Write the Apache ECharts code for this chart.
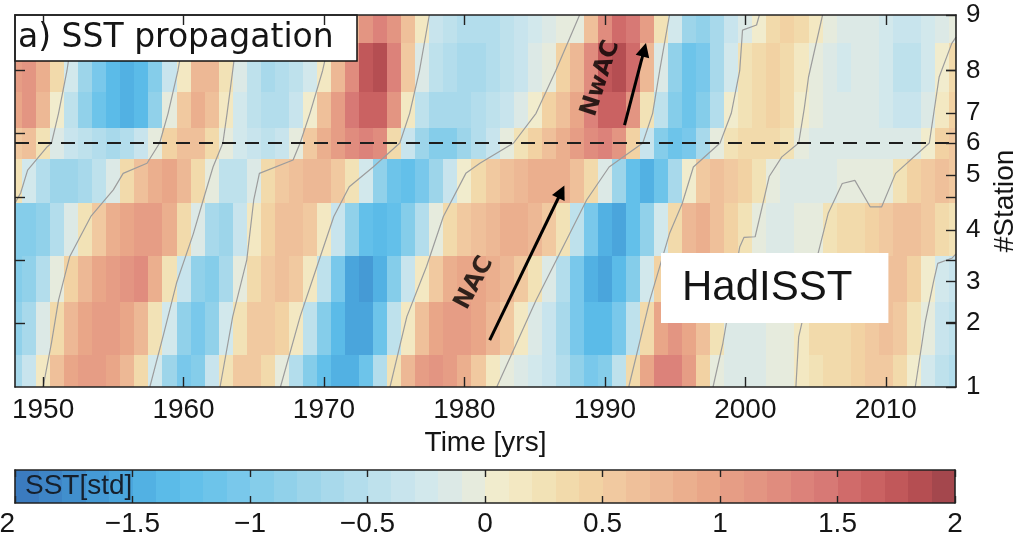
<!DOCTYPE html>
<html><head><meta charset="utf-8">
<script src="https://cdn.jsdelivr.net/npm/echarts@6/dist/echarts.min.js"></script>
<style>html,body{margin:0;padding:0;background:#fff}#c{width:1013px;height:539px}</style>
</head><body><div id="c"></div>
<script>
// ---------- data ----------
const years = [1948,1949,1950,1951,1952,1953,1954,1955,1956,1957,1958,1959,1960,1961,1962,1963,1964,1965,1966,1967,
  1968,1969,1970,1971,1972,1973,1974,1975,1976,1977,1978,1979,1980,1981,1982,1983,1984,1985,1986,1987,
  1988,1989,1990,1991,1992,1993,1994,1995,1996,1997,1998,1999,2000,2001,2002,2003,2004,2005,2006,2007,
  2008,2009,2010,2011,2012,2013,2014,2015];
const yearTicks = [1950,1960,1970,1980,1990,2000,2010];
const stationLabels = ['1','2','3','4','5','6','7','8','9'];
const stationDist = [0, 1.014, 1.661, 2.476, 3.344, 3.849, 4.317, 4.989, 5.868];
const distTicks = [1,2,3,4,5];
const cbarTicks = [-2,-1.5,-1,-0.5,0,0.5,1,1.5,2];
const levelEdges = [-2,-1.9,-1.8,-1.7,-1.6,-1.5,-1.4,-1.3,-1.2,-1.1,-1,-0.9,-0.8,-0.7,-0.6,-0.5,-0.4,-0.3,-0.2,-0.1,
  0,0.1,0.2,0.3,0.4,0.5,0.6,0.7,0.8,0.9,1,1.1,1.2,1.3,1.4,1.5,1.6,1.7,1.8,1.9,2];

const st1 = [-0.7,-0.4,0.1,0.6,0.9,1.0,1.0,0.9,0.7,0.3,
  -0.3,-0.8,-1.1,-1.0,-0.4,0.2,0.5,0.5,0.3,-0.1,
  -0.6,-1.0,-1.3,-1.5,-1.5,-1.2,-0.6,0.2,0.7,1.0,
  1.1,1.0,0.8,0.5,0.1,-0.1,-0.2,-0.3,-0.4,-0.6,
  -0.9,-1.1,-1.0,-0.5,0.3,0.9,1.3,1.3,1.0,0.4,
  -0.1,-0.2,-0.2,-0.2,-0.1,-0.1,0.1,0.2,0.3,0.3,
  0.4,0.5,0.5,0.3,0.0,-0.3,-0.5,-0.6];
const st2 = [-0.9,-0.7,-0.2,0.3,0.7,0.9,1.0,1.0,0.9,0.7,
  0.2,-0.3,-0.9,-1.1,-0.9,-0.3,0.2,0.5,0.5,0.4,
  0.1,-0.5,-1.0,-1.4,-1.6,-1.6,-1.2,-0.5,0.1,0.6,
  0.9,1.0,1.0,0.9,0.7,0.5,0.1,-0.2,-0.4,-0.7,
  -1.1,-1.4,-1.4,-1.1,-0.5,0.3,0.9,1.1,0.9,0.6,
  0.2,-0.2,-0.2,-0.2,-0.1,-0.1,0.1,0.3,0.3,0.3,
  0.4,0.5,0.6,0.5,0.2,-0.1,-0.4,-0.5];
const st3 = [-1.0,-0.9,-0.6,-0.1,0.4,0.7,0.9,1.0,1.1,1.2,
  0.8,0.2,-0.4,-0.9,-1.0,-0.7,-0.1,0.3,0.5,0.6,
  0.5,0.1,-0.5,-1.1,-1.6,-1.7,-1.5,-1.0,-0.4,0.1,
  0.5,0.8,0.9,0.9,0.8,0.7,0.5,0.2,-0.2,-0.6,
  -1.1,-1.5,-1.6,-1.4,-1.0,-0.3,0.4,0.8,0.9,0.7,
  0.4,0.0,-0.1,-0.2,-0.2,-0.1,-0.1,0.2,0.3,0.3,
  0.4,0.5,0.6,0.6,0.4,0.0,-0.3,-0.4];
const st4 = [-1.0,-1.0,-0.9,-0.6,-0.2,0.2,0.5,0.8,0.9,1.0,
  1.0,0.8,0.3,-0.2,-0.7,-0.8,-0.4,0.1,0.4,0.6,
  0.6,0.5,0.1,-0.4,-0.9,-1.3,-1.4,-1.3,-1.0,-0.6,
  -0.1,0.3,0.5,0.6,0.7,0.8,0.8,0.7,0.5,0.2,
  -0.5,-1.1,-1.5,-1.6,-1.3,-0.9,-0.3,0.3,0.7,0.8,
  0.6,0.4,0.2,-0.1,-0.2,-0.2,-0.1,-0.1,0.2,0.3,
  0.3,0.4,0.5,0.6,0.6,0.5,0.3,0.2];
const st5 = [0.2,-0.3,-0.6,-0.8,-0.8,-0.7,-0.5,-0.2,0.3,0.6,
  0.8,0.9,0.7,0.3,-0.1,-0.5,-0.5,-0.2,0.3,0.5,
  0.6,0.7,0.7,0.5,0.2,-0.3,-0.9,-1.2,-1.3,-1.1,
  -0.8,-0.4,0.0,0.3,0.5,0.6,0.7,0.8,0.8,0.8,
  0.6,0.3,-0.2,-0.8,-1.3,-1.5,-1.2,-0.7,0.0,0.5,
  0.6,0.5,0.4,0.2,-0.1,-0.2,-0.2,-0.2,-0.2,-0.1,
  -0.1,-0.1,-0.1,0.2,0.4,0.5,0.6,0.5];
const st6 = [0.5,0.6,0.2,-0.2,-0.4,-0.5,-0.6,-0.7,-0.6,-0.4,
  -0.1,0.4,0.6,0.6,0.3,-0.1,-0.3,-0.4,-0.5,-0.4,
  -0.1,0.5,0.8,1.0,1.2,1.3,1.2,0.3,-0.4,-0.8,
  -1.0,-1.0,-0.8,-0.6,-0.4,-0.1,0.2,0.4,0.6,0.8,
  1.0,1.2,1.3,1.1,0.4,-0.4,-1.0,-1.2,-1.1,-0.7,
  -0.1,0.2,0.3,0.3,0.3,0.2,-0.1,-0.2,-0.2,-0.2,
  -0.2,-0.2,-0.2,-0.2,-0.2,0.0,0.4,0.5];
const st7 = [0.9,1.1,0.7,0.0,-0.5,-0.9,-1.2,-1.4,-1.5,-1.4,
  -0.9,-0.1,0.5,0.8,0.6,0.1,-0.3,-0.5,-0.6,-0.6,
  -0.4,0.0,0.6,1.0,1.4,1.6,1.6,1.1,0.1,-0.5,
  -0.7,-0.7,-0.7,-0.6,-0.5,-0.4,-0.2,0.0,0.4,0.6,
  0.9,1.3,1.6,1.6,1.1,0.2,-0.5,-1.0,-1.2,-1.0,
  -0.6,0.0,0.2,0.3,0.4,0.3,0.0,-0.1,-0.2,-0.2,
  -0.2,-0.2,-0.3,-0.4,-0.4,-0.2,0.1,0.4];
const st8 = [1.0,1.1,0.8,0.3,-0.3,-0.8,-1.1,-1.4,-1.5,-1.4,
  -1.0,-0.4,0.1,0.7,0.7,0.2,-0.2,-0.5,-0.7,-0.6,
  -0.5,-0.3,0.1,0.7,1.2,1.7,1.8,1.3,0.5,-0.2,
  -0.5,-0.6,-0.7,-0.7,-0.6,-0.5,-0.4,-0.2,-0.1,0.4,
  0.7,1.2,1.7,1.8,1.5,0.7,-0.2,-0.9,-1.2,-1.1,
  -0.7,-0.3,0.2,0.3,0.4,0.3,0.1,-0.1,-0.2,-0.3,
  -0.2,-0.2,-0.3,-0.5,-0.5,-0.3,0.0,0.3];
const st9 = [0.8,0.9,0.7,0.4,0.1,-0.5,-0.9,-1.1,-1.2,-1.2,
  -1.0,-0.6,-0.1,0.3,0.6,0.3,0.0,-0.4,-0.5,-0.5,
  -0.5,-0.4,-0.2,0.2,0.7,1.1,1.3,1.1,0.6,0.1,
  -0.4,-0.5,-0.6,-0.6,-0.6,-0.5,-0.4,-0.3,-0.2,-0.1,
  -0.1,0.6,1.2,1.5,1.4,1.0,0.2,-0.3,-0.8,-0.9,
  -0.7,-0.4,-0.2,0.0,0.3,0.4,0.3,0.1,-0.1,-0.2,
  -0.2,-0.2,-0.3,-0.4,-0.4,-0.3,-0.2,-0.1];
const sstRows = [st1, st2, st3, st4, st5, st6, st7, st8, st9];

// zero contours: [year, distance]
const contour0 = [[1948.0,2.9],[1948.4,3.06],[1948.9,3.42],[1950.3,3.79],[1950.6,3.849],[1951.1,4.317],[1951.7,4.989],[1952.3,5.868]];
const contourA = [[1950.0,0],[1950.6,0.7],[1951.1,1.37],[1951.9,2.06],[1953.4,2.69],[1955.0,3.11],[1955.7,3.37],[1957.4,3.53],[1958.3,3.849],[1958.9,4.317],[1959.6,4.989],[1960.3,5.868]];
const contourB = [[1957.6,0],[1958.6,0.85],[1959.5,1.64],[1960.7,2.42],[1961.4,2.95],[1962.1,3.47],[1962.8,3.849],[1963.1,4.317],[1963.5,4.989],[1964.0,5.868]];
const contourC = [[1962.6,0],[1963.5,1.11],[1964.5,2.0],[1965.0,2.95],[1965.4,3.37],[1967.8,3.58],[1968.3,3.849],[1969.0,4.317],[1969.9,4.989],[1970.8,5.868]];
const contourD = [[1966.9,0],[1968.3,1.11],[1969.5,1.9],[1970.7,2.69],[1971.8,3.16],[1973.5,3.47],[1975.4,3.849],[1976.1,4.317],[1976.8,4.989],[1977.5,5.868]];
const contourE = [[1974.7,0],[1975.9,1.11],[1977.3,1.9],[1978.5,2.69],[1980.1,3.37],[1981.1,3.53],[1983.5,3.849],[1985.1,4.317],[1986.5,4.989],[1988.2,5.868]];
const contourF = [[1982.3,0],[1985.1,1.37],[1987.5,2.42],[1988.7,2.95],[1990.3,3.47],[1992.7,3.849],[1993.4,4.317],[1993.9,4.989],[1994.6,5.868]];
const contourG = [[1991.7,0],[1993.2,1.37],[1994.6,2.42],[1995.5,2.89],[1996.3,3.47],[1998.2,3.849],[1999.0,4.317],[1999.6,4.989],[1999.8,5.63],[2000.8,5.71],[2001.0,5.868]];
const contourH = [[1997.7,0],[1998.4,0.69],[1999.6,2.21],[1999.9,2.36],[2000.7,2.37],[2001.7,3.32],[2002.6,3.63],[2003.8,3.849],[2004.2,4.4],[2004.5,4.89],[2005.5,5.868]];
const contourI = [[2003.6,0],[2003.8,0.79],[2005.0,1.95],[2005.9,2.74],[2006.9,3.21],[2007.8,3.26],[2008.9,2.84],[2009.7,2.84],[2010.7,3.37],[2013.1,3.849],[2013.8,4.89],[2014.7,5.42],[2015.0,5.52]];
const contourJ = [[2012.1,0],[2012.8,1.014],[2013.4,1.661],[2013.7,1.95],[2014.7,2.03],[2015.0,2.1]];
const contours = [contour0, contourA, contourB, contourC, contourD, contourE, contourF, contourG, contourH, contourI, contourJ];

// annotations (data coordinates)
const arrowNAC = [[1981.8, 0.74], [1986.9, 3.08]];
const arrowNwAC = [[1991.4, 4.13], [1992.8, 5.32]];
const annotations = [
  {name: 'NAC', value: [1980.7, 1.64], rot: 62},
  {name: 'NwAC', value: [1989.7, 4.87], rot: 72}
];

// ---------- style ----------
const levelColors = ['#3b7bbf','#3e85c6','#418fcd','#459ad5','#4aa5dc','#52b1e3','#5bbbe8','#63c0ea','#6dc4ea','#79c8eb',
  '#85cdea','#91d1ea','#9dd5ea','#a8d9eb','#b3ddec','#bee1ec','#c8e4ed','#d2e8ec','#dce9e6','#e6ebdd',
  '#f1eccd','#f3e8c2','#f2e2b6','#f2daab','#f2d2a3','#f1c9a0','#efc09a','#edb895','#ebaf8e','#e9a688',
  '#e69d85','#e39582','#e08c7e','#dc827a','#d77975','#d06b6a','#ca6262','#c1585a','#b54e52','#a4474d'];
function levelColor(v) {
  for (let k = 0; k < levelColors.length; k++) {
    if (v < levelEdges[k + 1]) return levelColors[k];
  }
  return levelColors[levelColors.length - 1];
}
const frame = '#222';
const txt = '#151515';

const cells = [];
sstRows.forEach((row, s) => row.forEach((v, i) => cells.push([years[i], stationDist[s], v, s])));
const cbarCells = levelColors.map((c, k) => [levelEdges[k], 0, levelEdges[k + 1], k]);

const yMin = stationDist[0], yMax = stationDist[stationDist.length - 1];
const xMin = years[0], xMax = years[years.length - 1];

function renderCell(params, api) {
  const yr = api.value(0), v = api.value(2), s = api.value(3);
  const x0 = Math.max(xMin, yr - 0.5), x1 = Math.min(xMax, yr + 0.5);
  const d0 = s === 0 ? stationDist[0] : (stationDist[s - 1] + stationDist[s]) / 2;
  const d1 = s === stationDist.length - 1 ? stationDist[s] : (stationDist[s] + stationDist[s + 1]) / 2;
  const p0 = api.coord([x0, d1]), p1 = api.coord([x1, d0]);
  const X0 = Math.round(p0[0]), Y0 = Math.round(p0[1]), X1 = Math.round(p1[0]), Y1 = Math.round(p1[1]);
  return {type: 'rect', shape: {x: X0, y: Y0, width: X1 - X0, height: Y1 - Y0}, style: {fill: levelColor(v)}};
}
function renderLevel(params, api) {
  const lo = api.value(0), hi = api.value(2), k = api.value(3);
  const p0 = api.coord([lo, 1]), p1 = api.coord([hi, 0]);
  const X0 = Math.round(p0[0]), Y0 = Math.round(p0[1]), X1 = Math.round(p1[0]), Y1 = Math.round(p1[1]);
  return {type: 'rect', shape: {x: X0, y: Y0, width: X1 - X0, height: Y1 - Y0}, style: {fill: levelColors[k]}};
}

const mainAxisLine = {show: true, onZero: false, lineStyle: {color: frame, width: 1.6}};
const tickIn = (vals, len) => ({show: true, inside: true, length: len, customValues: vals, lineStyle: {color: frame, width: 1.4}});

const series = [];
series.push({type: 'custom', xAxisIndex: 0, yAxisIndex: 0, renderItem: renderCell, data: cells, silent: true, z: 2,
  encode: {x: 0, y: 1}});
contours.forEach((c, i) => {
  const s = {type: 'line', xAxisIndex: 0, yAxisIndex: 0, data: c, showSymbol: false, symbol: 'none', silent: true, z: 3,
    clip: true, lineStyle: {color: '#9c9c9c', width: 1.2}};
  if (i === 0) {
    s.markLine = {silent: true, symbol: ['none', 'none'], label: {show: false}, animation: false,
      lineStyle: {type: [14, 9], color: '#1e1e1e', width: 1.8}, data: [{yAxis: stationDist[5]}]};
  }
  series.push(s);
});
series.push({type: 'lines', coordinateSystem: 'cartesian2d', xAxisIndex: 0, yAxisIndex: 0, silent: true, z: 5,
  symbol: ['none', 'triangle'], symbolSize: 14,
  lineStyle: {color: '#000', width: 3, opacity: 1},
  data: [{coords: arrowNAC}, {coords: arrowNwAC}]});
series.push({type: 'scatter', xAxisIndex: 0, yAxisIndex: 0, silent: true, z: 5, symbolSize: 1,
  itemStyle: {color: 'rgba(0,0,0,0)'},
  data: annotations.map(a => ({name: a.name, value: a.value,
    label: {show: true, position: 'inside', formatter: '{b}', rotate: a.rot, fontFamily: 'DejaVu Sans',
      fontWeight: 'bold', fontSize: 24, color: '#000'}}))});
series.push({type: 'custom', xAxisIndex: 2, yAxisIndex: 2, renderItem: renderLevel, data: cbarCells, silent: true, z: 2});

const option = {
  animation: false,
  backgroundColor: '#fff',
  textStyle: {fontFamily: 'Liberation Sans'},
  title: [
    {text: 'a) SST propagation', left: 15, top: 15, padding: [7, 24, 6, 3], backgroundColor: '#fff',
      borderColor: '#111', borderWidth: 1.5,
      textStyle: {fontFamily: 'DejaVu Sans', fontSize: 33, fontWeight: 'normal', color: txt}},
    {text: 'HadISST', left: 661, top: 253, padding: [14, 36, 14, 21], backgroundColor: '#fff',
      textStyle: {fontFamily: 'Liberation Sans', fontSize: 42, fontWeight: 'normal', color: txt}},
    {text: 'SST[std]', left: 25, top: 472, padding: 0,
      textStyle: {fontFamily: 'Liberation Sans', fontSize: 28, fontWeight: 'normal', color: '#16202c'}}
  ],
  grid: [
    {left: 15, right: 57, top: 15, bottom: 152, containLabel: false, outerBoundsMode: 'none'},
    {left: 15, right: 58, top: 470, bottom: 36, containLabel: false, outerBoundsMode: 'none'}
  ],
  xAxis: [
    {type: 'value', gridIndex: 0, position: 'bottom', min: xMin, max: xMax, z: 10,
      axisLine: mainAxisLine, axisTick: tickIn(yearTicks, 10), splitLine: {show: false},
      axisLabel: {show: true, customValues: yearTicks, fontSize: 28, margin: 9, color: txt, formatter: v => String(v)},
      name: 'Time [yrs]', nameLocation: 'middle', nameGap: 41,
      nameTextStyle: {fontSize: 28, color: txt}},
    {type: 'value', gridIndex: 0, position: 'top', min: xMin, max: xMax, z: 10,
      axisLine: mainAxisLine, axisTick: tickIn(yearTicks, 10), splitLine: {show: false}, axisLabel: {show: false}},
    {type: 'value', gridIndex: 1, position: 'bottom', min: -2, max: 2, interval: 0.5, z: 10,
      axisLine: mainAxisLine, axisTick: {show: true, inside: true, length: 7, lineStyle: {color: frame, width: 1.4}},
      splitLine: {show: false},
      axisLabel: {show: true, fontSize: 28, margin: 7, color: txt, alignMinLabel: 'right',
        formatter: v => (v < 0 ? '\u2212' : '') + String(Math.abs(v))}},
    {type: 'value', gridIndex: 1, position: 'top', min: -2, max: 2, interval: 0.5, z: 10,
      axisLine: mainAxisLine, axisTick: {show: true, inside: true, length: 7, lineStyle: {color: frame, width: 1.4}},
      splitLine: {show: false}, axisLabel: {show: false}}
  ],
  yAxis: [
    {type: 'value', gridIndex: 0, position: 'left', min: yMin, max: yMax, z: 10,
      axisLine: mainAxisLine, axisTick: tickIn(distTicks, 10), splitLine: {show: false}, axisLabel: {show: false}},
    {type: 'value', gridIndex: 0, position: 'right', min: yMin, max: yMax, z: 10,
      axisLine: mainAxisLine, axisTick: tickIn(stationDist.concat(distTicks), 10), splitLine: {show: false},
      axisLabel: {show: true, customValues: stationDist, fontSize: 26, margin: 10, color: txt,
        formatter: v => stationLabels[stationDist.indexOf(v)]},
      name: '#Station', nameLocation: 'middle', nameGap: 34, nameRotate: 90,
      nameTextStyle: {fontSize: 28, color: txt}},
    {type: 'value', gridIndex: 1, position: 'left', min: 0, max: 1, z: 10,
      axisLine: mainAxisLine, axisTick: {show: false}, splitLine: {show: false}, axisLabel: {show: false}},
    {type: 'value', gridIndex: 1, position: 'right', min: 0, max: 1, z: 10,
      axisLine: mainAxisLine, axisTick: {show: false}, splitLine: {show: false}, axisLabel: {show: false}}
  ],
  series: series
};
const chart = echarts.init(document.getElementById('c'), null, {renderer: 'canvas'});
chart.setOption(option);
</script></body></html>
